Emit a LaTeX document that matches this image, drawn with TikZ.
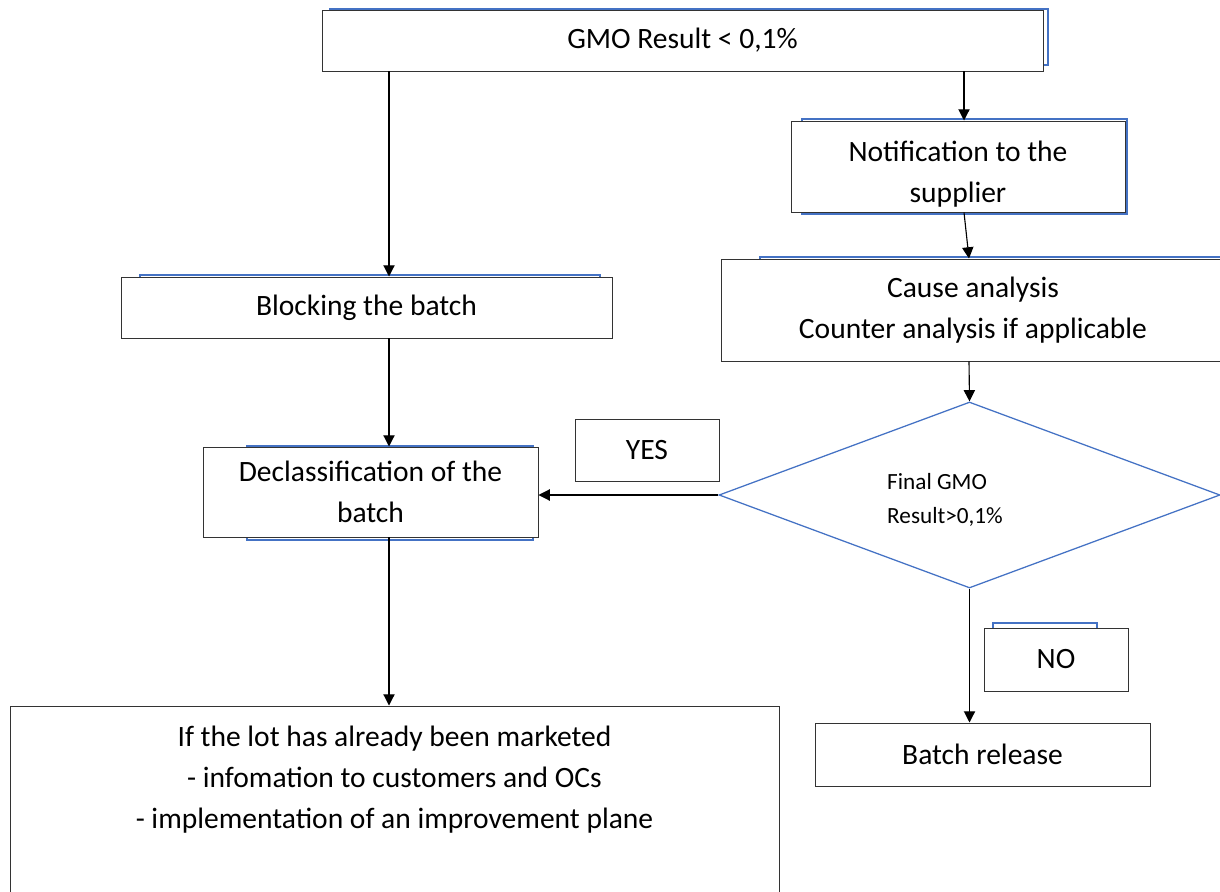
\documentclass[tikz,border=0pt]{standalone}
\usepackage{fontspec}
\setmainfont{Carlito}
\usetikzlibrary{arrows.meta,shapes.geometric}
\definecolor{azul}{RGB}{68,114,196}
\newlength\pxu
\setlength\pxu{0.025cm}

\begin{document}
\begin{tikzpicture}[x=0.025cm,y=-0.025cm,
  caixa/.style={draw=black!80,fill=white,line width=0.7pt,inner sep=0pt,align=center,font=\fontsize{21}{29}\selectfont},
  sombra/.style={draw=azul,line width=0.9pt},
  seta/.style={line width=0.8pt,-{Triangle[length=8pt,width=8pt]}}]
  \useasboundingbox (0,0) rectangle (1220,892);

  %contornos azuis
  \draw[sombra] (330,9) rectangle (1048,65);
  \draw[sombra] (802,119) rectangle (1127,214);
  \draw[sombra] (140,275) rectangle (600,336);
  \draw[sombra] (247,446) rectangle (533,540);
  \draw[sombra] (760,257) rectangle (1230,359);
  \draw[sombra] (993,623) rectangle (1097,660);

  %caixas
  \node[caixa,minimum width=721*\pxu,minimum height=61*\pxu] (v1) at (682.5,40.5) {GMO Result < 0,1\%};
  \node[caixa,minimum width=491*\pxu,minimum height=61*\pxu] (v2) at (366.5,307.5) {Blocking the batch};
  \node[caixa,minimum width=334*\pxu,minimum height=91*\pxu] (v3) at (958,166.5) {\mbox{}\\[-4pt]Notification to the\\supplier};
  \node[caixa,minimum width=504*\pxu,minimum height=102*\pxu] (v4) at (973,310) {Cause analysis\\Counter analysis if applicable};
  \node[caixa,minimum width=335*\pxu,minimum height=90*\pxu] (v5) at (370.5,492) {Declassification of the\\batch};
  \node[caixa,minimum width=769*\pxu,minimum height=194*\pxu] (v6) at (394.5,803) {If the lot has already been marketed\\- infomation to customers and OCs\\- implementation of an improvement plane\\[8pt]\mbox{}};
  \node[caixa,minimum width=335*\pxu,minimum height=63*\pxu] (v9) at (982.5,754.5) {Batch release};

  %decisao
  \node[draw=azul,line width=0.9pt,diamond,minimum width=501*\pxu,minimum height=186*\pxu,inner sep=0pt] (v7) at (969.5,495) {};
  \node[font=\fontsize{16.5}{24}\selectfont,align=left,inner sep=0pt] (v8) at (945,500) {Final GMO\\Result>0,1\%};

  \node[caixa,minimum width=144*\pxu,minimum height=62*\pxu] (v10) at (647,450) {YES};
  \node[caixa,minimum width=144*\pxu,minimum height=63*\pxu] (v11) at (1056,659.5) {NO};

  %setas
  \coordinate (e1) at (389,0);
  \coordinate (e2) at (964,0);
  \coordinate (e3) at (969,0);

  \draw[seta] (v1.south -| e1) -- (v2.north -| e1);
  \draw[seta] (v2.south -| e1) -- (v5.north -| e1);
  \draw[seta] (v5.south -| e1) -- (v6.north -| e1);

  \draw[seta] (v1.south -| e2) -- (v3.north -| e2);
  \draw[seta] (v3.south -| e2) -- (v4.north -| e3);
  \draw[seta] (v4.south -| e3) -- (v7.north);
  \draw[seta] (v7.west) -- (v5.east |- v7.west);
  \draw[seta] (v7.south) -- (v9.north -| v7.south);

\end{tikzpicture}
\end{document}
